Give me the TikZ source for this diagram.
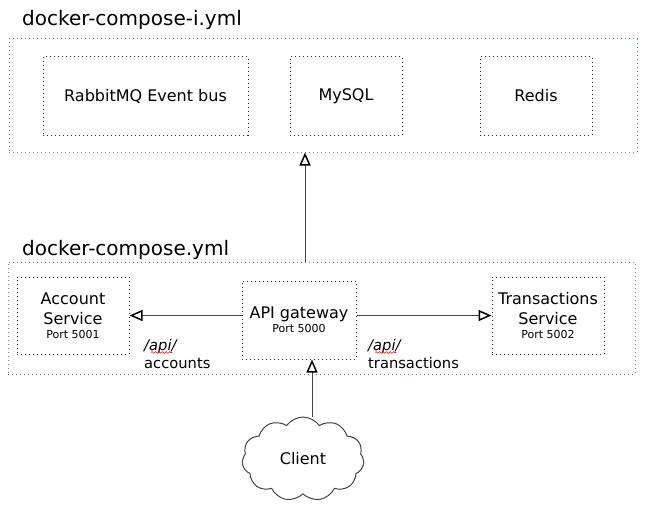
\documentclass[tikz,border=0pt]{standalone}
\usepackage{fontspec}
\setmainfont{DejaVu Sans}
\usepackage{xcolor}
\usepackage{tikz}
\usetikzlibrary{shapes,arrows.meta,positioning,calc,decorations.pathmorphing}

\definecolor{composeblue}{HTML}{5F88CC}
\definecolor{linegray}{HTML}{444444}
\newcommand{\titlefont}{\fontsize{20}{24}\selectfont}
\newcommand{\boxfont}{\fontsize{16}{20}\selectfont}
\newcommand{\portfont}{\fontsize{11}{13}\selectfont}
\newcommand{\lblfont}{\fontsize{14.7}{18}\selectfont}

\begin{document}
\begin{tikzpicture}[x=1pt, y=-1pt,
    outerbox/.style={draw=composeblue, line width=1pt, dash pattern=on 1pt off 3pt, inner sep=0pt},
    svcbox/.style={draw=black!85, line width=1pt, dash pattern=on 1pt off 3pt, inner sep=0pt,
        align=center, font=\boxfont},
    flow/.style={draw=linegray, line width=1pt, -{Triangle[open, length=13pt, width=11pt, line width=1.5pt, color=black]}},
    title/.style={font=\titlefont, inner sep=0pt},
    lbl/.style={font=\lblfont, inner sep=0pt, align=left},
    squiggle/.style={draw=red, line width=0.6pt, decorate, decoration={snake, amplitude=0.9pt, segment length=3.5pt}}
]
    \useasboundingbox (0,0) rectangle (664,527);

    % docker-compose-i.yml: infrastructure
    \node[title, anchor=base west] (infratitle) at (22,26) {docker-compose-i.yml};
    \node[outerbox, minimum width=628pt, minimum height=113pt] (infra) at (323,95.5) {};
    \node[svcbox, minimum width=205pt, minimum height=78pt] (rabbit) at (145.5,96) {RabbitMQ Event bus};
    \node[svcbox, minimum width=112pt, minimum height=78pt] (mysql) at (346,96) {MySQL};
    \node[svcbox, minimum width=112pt, minimum height=78pt] (redis) at (536,96) {Redis};

    % docker-compose.yml: services
    \node[title, anchor=base west] (svctitle) at (22,255) {docker-compose.yml};
    \node[outerbox, minimum width=627pt, minimum height=112pt] (services) at (321.5,318) {};
    \node[svcbox, minimum width=112pt, minimum height=77pt] (account) at (73,315.5)
        {Account\\Service\\[-6pt]{\portfont Port 5001}};
    \node[svcbox, minimum width=114pt, minimum height=78pt] (gateway) at (299,320)
        {API gateway\\[-6pt]{\portfont Port 5000}};
    \node[svcbox, minimum width=112pt, minimum height=77pt] (trans) at (548,315.5)
        {Transactions\\Service\\[-6pt]{\portfont Port 5002}};

    % Client
    \node[cloud, draw=linegray, line width=1pt, cloud puffs=11, cloud puff arc=110,
        minimum width=122pt, minimum height=84pt, inner sep=0pt, font=\boxfont] (client) at (303,459) {Client};

    % Routes
    \draw[flow] (gateway.west |- account.east) -- (account.east);
    \draw[flow] (gateway.east |- trans.west) -- (trans.west);
    \draw[flow] ([xshift=-16.5pt]services.north) -- ([xshift=-16.5pt]services.north |- infra.south);
    \draw[flow] ([xshift=13pt]gateway.south |- client.north) -- ([xshift=13pt]gateway.south);

    % Route labels
    \node[lbl, anchor=north west] (acclbl) at (144,339.5) {\textit{/api/}\\accounts};
    \node[lbl, anchor=north west] (translbl) at (368,339.5) {\textit{/api/}\\transactions};
    \draw[squiggle] ($(acclbl.north west)+(7,13)$) -- ($(acclbl.north west)+(28,13)$);
    \draw[squiggle] ($(translbl.north west)+(7,13)$) -- ($(translbl.north west)+(28,13)$);

\end{tikzpicture}
\end{document}
